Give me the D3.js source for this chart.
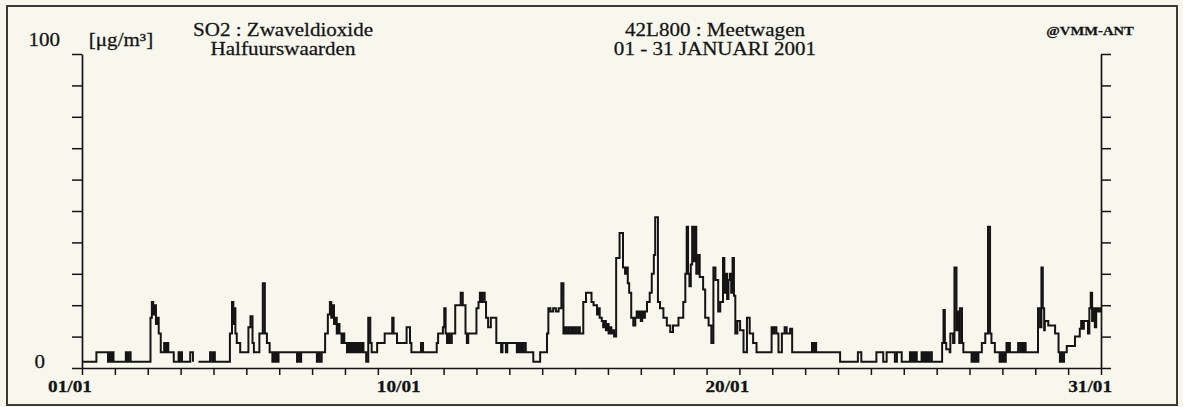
<!DOCTYPE html>
<html>
<head>
<meta charset="utf-8">
<script src="https://cdn.jsdelivr.net/npm/d3@7"></script>
<style>
  html, body { margin: 0; padding: 0; background: #f7f7ee; }
  svg { display: block; }
  text { font-family: "Liberation Serif", "Times New Roman", serif; fill: #141414; stroke: #141414; stroke-width: 0.25px; }
</style>
</head>
<body>
<svg id="chart" width="1183" height="407"></svg>
<script>
// SO2 half-hourly concentrations, 42L800 Meetwagen, January 2001.
// Each entry: [hour since 01/01 00:00, value in µg/m³] — the value holds until the next entry.
// null marks missing data.
const so2Steps = [
  [0,2],[10.5,5],[19,2],[20,5],[21,2],[22,5],[23,2],
  [32,5],[33,2],[34,5],[35.5,2],
  [50,16],[51,21],[52,17],[53,20],[54,14],[55,16],[56,11],[57.5,5],
  [60,8],[61,5],[62,8],[63,5],
  [67,2],[70.5,5],[71.5,2],[72.5,5],[73,2],
  [79,5],[81,2],[81.5,null],
  [85,2],[93.5,5],[95,2],[96,5],[97,2],
  [108,11],[109.5,21],[110.5,14],[111,19],[112,11],[113,8],[115.5,5],
  [121.5,13],[123,16.5],[124.5,8],[125.5,5],
  [129.5,11],[132,27],[133.5,11],[135,8],[137,5],
  [139,2],[140,5],[141,2],[142,5],[143,2],[143.5,5],
  [157,2],[158,5],[159,2],[160,5],
  [171.5,2],[172.5,5],[173.5,2],[175,5],
  [177.5,11],[179.5,17],[181,21],[182,16],[183,20],[184,14],[185,16],[186,11],[187,14],[188,11],[189.5,8],[190.5,11],[191.5,8],
  [193.5,5],[194.5,8],[195.5,5],[196.5,8],[197.5,5],[198.5,8],[199.5,5],[200.5,8],[201.5,5],[202.5,8],[203.5,5],[204.5,8],[205.5,5],
  [207.5,2],[209,16],[210.5,8],[211.5,5],[215.5,8],[221,11],[226.5,16],[227.5,11],[230,8],[237,13],[239.5,8],[240.5,5],[247.5,8],[249,5],
  [259,8],[260,11],[263.5,13],[264.5,19],[265.5,11],[266.5,8],[267.5,11],[268.5,8],[270,11],
  [272.5,20],[276.5,24],[278,20],[280,11],[281,8],[282,11],[288,19],[289.5,21],[290.5,24],[291.5,21],[292.5,24],[294,21],[295,16],[296.5,13],[298.5,16],
  [302.5,8],[306,5],[307,8],[309.5,5],[310.5,8],[317.5,5],[318.5,8],[319.5,5],[320.5,8],[321.5,5],[322.5,8],[324,5],[329.5,2],[334.5,5],
  [339.5,11],[340.5,19],[342,18],[344,19],[346,18],[348,19],[350,27],[351.5,11],[352.5,13],[353.5,11],[355,13],[356,11],[357.5,13],[358.5,11],[360,13],[361,11],[362.5,13],[363.5,11],
  [366,21],[368,24],[372,21],[373.5,20],[376,17],[377,19],[378,16],[379.5,15],[380.5,13],[381.5,15],[382.5,12],[383.5,14],[384.5,11],[385.5,13],[386.5,11],[387.5,12],[388.5,10],
  [390,35],[392.5,43],[395,32],[396.5,30],[397.5,32],[398.5,27],[399.5,24],[401,16],[402.5,13.5],[404,16],[405,18],[406,16],[407,18],[408,15],[409,18],[410,16],[411,18],[412.5,21],
  [414.5,24],[416,30],[417.5,36],[418.5,48],[420.5,21],[422,19],[424.5,16],[427,13.5],[429.5,11.5],[431.5,13.5],[435.5,16],
  [439,21],[440.5,30],[441.5,45],[442.5,30],[443.5,26],[444.5,33],[445.5,45],[446.5,34],[447.5,45],[448.5,30],[450,36],[451,29],[453.5,25],[455,16],[457.5,13.5],[459.5,8],
  [461,32],[462.5,28],[464.5,18],[466,21],[468,35],[469,24],[470,30],[471,22],[472,28],[473,30],[474,24],[475,35],[476,23],[477,11],[478.5,15],[480.5,12],[483,5],[485.5,16],[487.5,11],[490,8],[492.5,5],
  [503.5,13],[504.5,11],[505.5,13],[507,11],[508.5,5],[511,11],[513,13],[514.5,11],[517,12.5],[518.5,5],
  [533,8],[534,5],[535,8],[536,5],
  [553.5,2],[566.5,5],[569,2],[580,5],[585,2],[587.5,5],[593.5,2],[595,5],[598.5,2],
  [604.5,5],[605.5,2],[606.5,5],[607.5,2],[608.5,5],[609.5,2],
  [613,5],[614,2],[615,5],[616,2],[617,5],[618,2],[619,5],[620.5,2],
  [628,8],[629,18.5],[630,8],[631,6],[633.5,5],[634,11],[636,8],[637,32],[638.5,12],[639.5,18],[640.5,8],[641,19],[642.5,8],[643.5,5],
  [649.5,2],[650.5,5],[651.5,2],[652.5,5],[653.5,2],[654.5,5],
  [657,8],[659.5,11],[661.5,45],[663,11],[664,8],[666.5,5],[670,2],[671,5],[672,2],[673,5],[674,2],[674.5,5],[675,8],[676,5],[677,8],[677.5,5],
  [683.5,8],[685,5],[686,8],[687,5],[688,8],[689,5],
  [698,19],[699.5,13],[700.5,32],[701.5,19],[702.5,12],[703,15],[705.5,13.5],[710.5,11],[713,5],[714,2],[715,5],[716,2],[717,5],[719,7],[725,10],
  [728.5,12.5],[729.5,15],[730.5,12.5],[731.5,15],[734.5,11],[735.5,19],[736.5,24],[737.5,15],[738.5,19],[739.5,13],[740.5,19],[742,18],[743.5,19],[744,19]
];

// Axis definitions
const yTickValues = [0,10,20,30,40,50,60,70,80,90,100];
const dayTicks = d3.range(0, 32);            // one tick per day
const dayLabelDays = [0, 10, 20, 30];
const dayLabels = ["01/01", "10/01", "20/01", "31/01"];
const yLabels = [{ v: 100, text: "100" }, { v: 0, text: "0" }];
const unitLabel = "[\u03BCg/m\u00B3]";
const titleLeft = ["SO2 : Zwaveldioxide", "Halfuurswaarden"];
const titleRight = ["42L800 : Meetwagen", "01 - 31 JANUARI 2001"];
const credit = "@VMM-ANT";

const W = 1183, H = 407;
const margin = { left: 82, right: 82, top: 54, bottom: 39 };
const svg = d3.select("#chart");
const ink = "#141414";
const stretch = 1.17;   // typeface is set slightly wide

// Frame
svg.append("rect")
  .attr("x", 7).attr("y", 6).attr("width", 1170).attr("height", 399)
  .attr("fill", "#f7f7ee").attr("stroke", "#3a3a3a").attr("stroke-width", 2);

const x = d3.scaleLinear().domain([0, 31 * 24]).range([margin.left, W - margin.right]);
const y = d3.scaleLinear().domain([0, 100]).range([H - margin.bottom, margin.top]);

function styleAxis(g) {
  g.selectAll("path.domain").attr("stroke", ink).attr("stroke-width", 1.7);
  g.selectAll(".tick line").attr("stroke", ink).attr("stroke-width", 1.5);
  g.selectAll(".tick text").remove();
}

// Left and right value axes (ticks pointing outward)
svg.append("g").attr("transform", `translate(${x.range()[0]},0)`)
  .call(d3.axisLeft(y).tickValues(yTickValues).tickSize(10).tickSizeOuter(0).tickFormat(""))
  .call(styleAxis);
svg.append("g").attr("transform", `translate(${x.range()[1]},0)`)
  .call(d3.axisRight(y).tickValues(yTickValues).tickSize(10).tickSizeOuter(0).tickFormat(""))
  .call(styleAxis);

// Time axis
svg.append("g").attr("transform", `translate(0,${y(0)})`)
  .call(d3.axisBottom(x).tickValues(dayTicks.map(d => d * 24)).tickSize(7).tickSizeOuter(0).tickFormat(""))
  .call(styleAxis);

// Stretched text helper
function label(str, px, py, opts = {}) {
  const g = svg.append("g").attr("transform", `translate(${px},${py}) scale(${stretch},1)`);
  return g.append("text")
    .attr("text-anchor", opts.anchor || "middle")
    .attr("font-size", opts.size || 18)
    .attr("font-weight", opts.weight || "normal")
    .text(str);
}

// Day labels
dayLabelDays.forEach((d, i) => {
  const last = i === dayLabelDays.length - 1;
  label(dayLabels[i], x(d * 24) + (last ? 0 : -12), y(0) + 24,
        { anchor: last ? "start" : "middle", weight: "bold", size: 16.5 });
});

// Value labels
label(yLabels[0].text, 60, y(yLabels[0].v) - 8, { anchor: "end" });
label(yLabels[1].text, 45, y(yLabels[1].v), { anchor: "end" });
label(unitLabel, 121, y(100) - 8);

// Titles
titleLeft.forEach((t, i) => label(t, 283, 36 + i * 19));
titleRight.forEach((t, i) => label(t, 715, 36 + i * 19));
label(credit, 1090, 35, { weight: "bold", size: 12.5 });

// Concentration trace (step line)
const line = d3.line()
  .defined(d => d[1] !== null)
  .x(d => x(d[0]))
  .y(d => y(d[1]))
  .curve(d3.curveStepAfter);

svg.append("path")
  .datum(so2Steps)
  .attr("fill", "none")
  .attr("stroke", ink)
  .attr("stroke-width", 2)
  .attr("stroke-linejoin", "miter")
  .attr("d", line);
</script>
</body>
</html>
